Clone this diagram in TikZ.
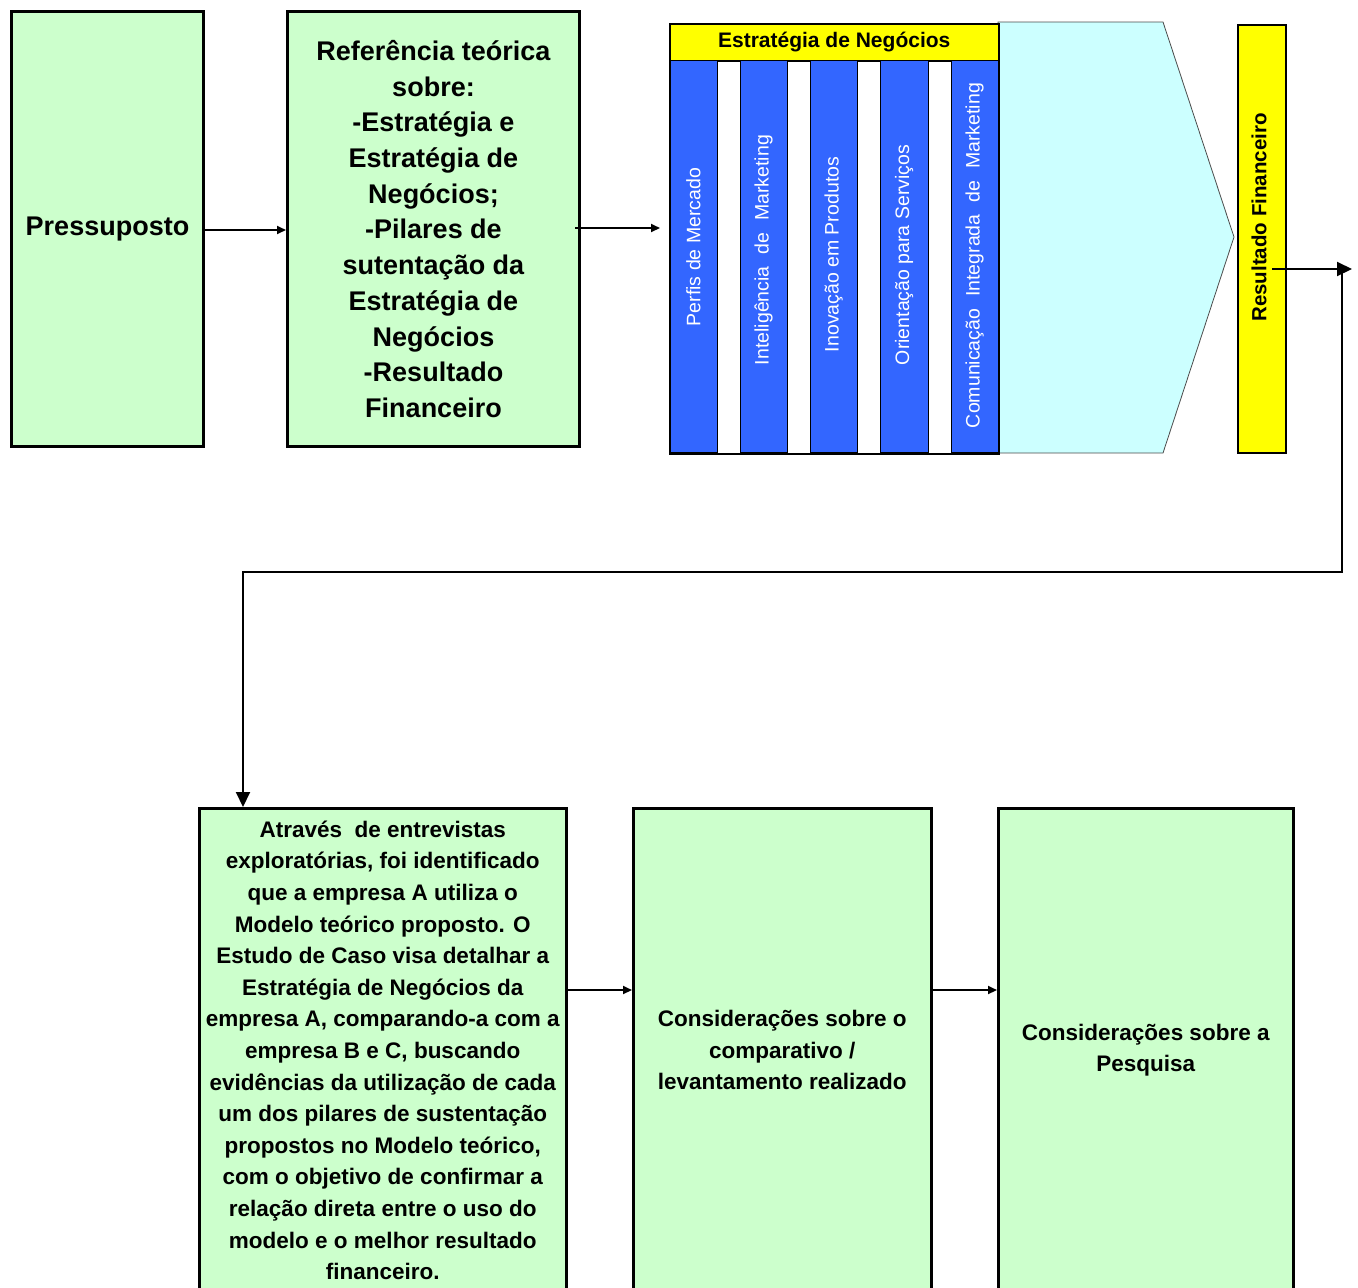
\documentclass[tikz,border=0pt]{standalone}
\usepackage{fontspec}
\setmainfont{Liberation Sans}
\usetikzlibrary{arrows.meta,calc}
\definecolor{boxgreen}{HTML}{CCFFCC}
\definecolor{pillarblue}{HTML}{3366FF}
\definecolor{headyellow}{HTML}{FFFF00}
\definecolor{arrowcyan}{HTML}{CCFFFF}
\begin{document}
\begin{tikzpicture}[x=1pt,y=-1pt,
  greenbox/.style={draw=black, line width=3pt, fill=boxgreen, inner sep=0pt, anchor=north west, align=center},
  lowbox/.style={greenbox, line width=2.5pt},
  topfont/.style={font=\fontsize{27}{35.7}\selectfont\bfseries},
  lowfont/.style={font=\fontsize{22.5}{31.6}\selectfont\bfseries},
  pillar/.style={draw=black, line width=1.3pt, fill=pillarblue, inner sep=0pt, anchor=north west, minimum height=392pt},
  pillartext/.style={rotate=90, text=white, font=\fontsize{19.5}{22}\selectfont, inner sep=0pt},
  conn/.style={line width=2pt, -{Triangle[length=9pt,width=8pt]}},
  bigconn/.style={line width=2pt, -{Triangle[length=15pt,width=14pt]}},
]
\useasboundingbox (0,0) rectangle (1358,1288);

% first row
\node[greenbox, topfont, minimum width=192pt, minimum height=435pt] (press) at (10,10) {Pressuposto};
\node[greenbox, topfont, minimum width=292pt, minimum height=435pt] (ref) at (286,10)
  {Referência teórica\\sobre:\\-Estratégia e\\Estratégia de\\Negócios;\\-Pilares de\\sutentação da\\Estratégia de\\Negócios\\-Resultado\\Financeiro};

% arrow-shaped background behind the pillars
\draw[draw=black!70, line width=0.8pt, fill=arrowcyan]
  (998,22) -- (1163,22) -- (1234,237) -- (1163,453) -- (998,453) -- cycle;

% business strategy block with its pillars
\node[draw=black, line width=1.5pt, fill=white, inner sep=0pt, anchor=north west,
      minimum width=329pt, minimum height=430pt] (pilares) at (669,23) {};
\node[draw=black, line width=1.5pt, fill=headyellow, inner sep=0pt, anchor=north west,
      minimum width=329pt, minimum height=37pt, font=\fontsize{21}{24}\selectfont\bfseries] (estrat) at (669,23) {Estratégia de Negócios};
\node[pillar, minimum width=47pt] (c1) at (670,60) {};
\node[pillar, minimum width=47pt] (c2) at (740,60) {};
\node[pillar, minimum width=47pt] (c3) at (810,60) {};
\node[pillar, minimum width=48pt] (c4) at (880,60) {};
\node[pillar, minimum width=47pt] (c5) at (951,60) {};
\node[pillartext] (t1) at (693.5,247) {Perfis de Mercado};
\node[pillartext] (t2) at (763.5,250) {\makebox[230pt][s]{Inteligência de Marketing}};
\node[pillartext] (t3) at (833.5,254.5) {Inovação em Produtos};
\node[pillartext] (t4) at (904,255) {Orientação para Serviços};
\node[pillartext] (t5) at (974.5,255.5) {\makebox[345pt][s]{Comunicação Integrada de Marketing}};

% financial result bar
\node[draw=black, line width=2pt, fill=headyellow, inner sep=0pt, anchor=north west,
      minimum width=48pt, minimum height=428pt] (result) at (1237,24) {};
\node[rotate=90, inner sep=0pt, font=\fontsize{20.5}{24}\selectfont\bfseries] (resulttxt) at (1259,217.5) {Resultado Financeiro};

% second row
\node[lowbox, lowfont, minimum width=367pt, minimum height=484pt] (atraves) at (198,807)
  {Através~ de entrevistas\\exploratórias, foi identificado\\que a empresa A utiliza o\\Modelo teórico proposto. O\\Estudo de Caso visa detalhar a\\Estratégia de Negócios da\\empresa A, comparando-a com a\\empresa B e C, buscando\\evidências da utilização de cada\\um dos pilares de sustentação\\propostos no Modelo teórico,\\com o objetivo de confirmar a\\relação direta entre o uso do\\modelo e o melhor resultado\\financeiro.};
\node[lowbox, lowfont, minimum width=298pt, minimum height=484pt] (compar) at (632,807)
  {Considerações sobre o\\comparativo /\\levantamento realizado};
\node[lowbox, lowfont, minimum width=295pt, minimum height=484pt] (pesq) at (997,807)
  {Considerações sobre a\\Pesquisa};

% connector end points
\coordinate (pressout) at (202,230);
\coordinate (refin) at (286,230);
\coordinate (refout) at (575,228);
\coordinate (pilin) at (660,228);
\coordinate (rfstart) at (1272,269);
\coordinate (rfout) at (1352,269);
\coordinate (drop) at (1342,271);
\coordinate (turnR) at (1342,572);
\coordinate (turnL) at (243,572);
\coordinate (row) at (0,990);

% connectors
\draw[conn] (pressout) -- (refin);
\draw[conn] (refout) -- (pilin);
\draw[bigconn] (rfstart) -- (rfout);
\draw[bigconn] (drop) -- (turnR) -- (turnL) -- (turnL |- atraves.north);
\draw[conn] (atraves.east |- row) -- (compar.west |- row);
\draw[conn] ([xshift=-2pt]compar.east |- row) -- (pesq.west |- row);
\end{tikzpicture}
\end{document}
